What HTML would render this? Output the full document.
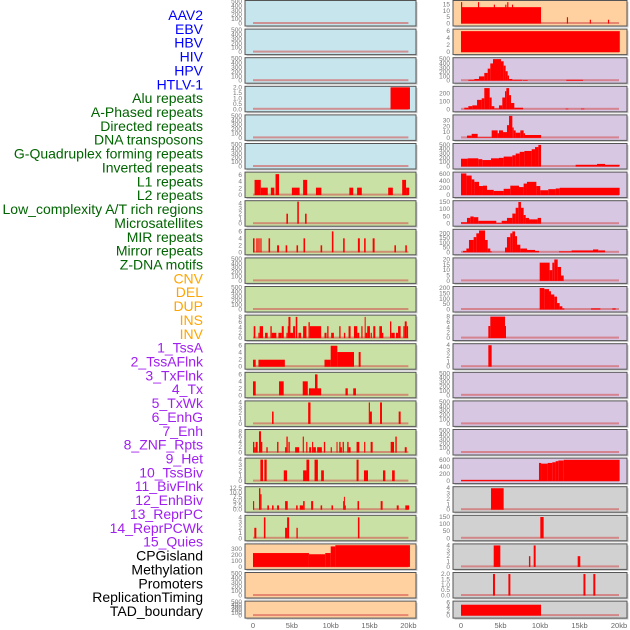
<!DOCTYPE html>
<html><head><meta charset="utf-8"><style>
body{margin:0;background:#fff;width:630px;height:630px;overflow:hidden;font-family:"Liberation Sans",sans-serif}
svg{position:absolute;left:0;top:0}
</style></head><body>
<svg id="chart" width="630" height="630" viewBox="0 0 630 630"></svg>
<script>
const labels=["AAV2","EBV","HBV","HIV","HPV","HTLV-1","Alu repeats","A-Phased repeats","Directed repeats","DNA transposons","G-Quadruplex forming repeats","Inverted repeats","L1 repeats","L2 repeats","Low_complexity A/T rich regions","Microsatellites","MIR repeats","Mirror repeats","Z-DNA motifs","CNV","DEL","DUP","INS","INV","1_TssA","2_TssAFlnk","3_TxFlnk","4_Tx","5_TxWk","6_EnhG","7_Enh","8_ZNF_Rpts","9_Het","10_TssBiv","11_BivFlnk","12_EnhBiv","13_ReprPC","14_ReprPCWk","15_Quies","CPGisland","Methylation","Promoters","ReplicationTiming","TAD_boundary"];
const labelGroups=[6,13,5,15,5];
const groupColors=["#0000ff","#006400","#ffa500","#a020f0","#000000"];
const xTicks=[0,5,10,15,20];
const xTickLabels=["0","5kb","10kb","15kb","20kb"];
const T500=[0,100,200,300,400,500];
const T2=[0,0.5,1,1.5,2];
// left panel data: [startKb,endKb,value]
const L3=[[17.7,20.2,2]];
const L6=[[0.2,1.0,4.5],[1.0,1.9,2.2],[2.3,2.75,2.2],[2.9,3.35,6.2],[5.0,6.0,2.2],[6.45,6.97,4.5],[8.1,8.8,2.2],[12.4,12.9,2.2],[13.4,14.0,2.2],[17.4,18.0,2.2],[19.2,19.7,4.5],[19.7,20.1,2.2]];
const L7=[[4.3,4.5,2],[5.7,5.9,4.4],[6.7,6.9,2]];
const L8=[[0,0.2,4],[0.43,0.6,4],[0.69,0.85,4],[0.95,1.1,4],[2.0,2.2,4],[3.1,3.35,2],[4.2,4.4,2],[5.6,5.8,2],[6.5,6.7,4],[8.7,8.9,2],[10.15,10.35,6],[11.6,11.8,4],[13.5,13.75,4],[14.3,14.5,4],[15.4,15.65,4],[18.2,18.4,2],[19.6,19.8,2]];
const L11=[[0.09,0.3,4.5],[0.69,0.86,2],[0.86,1.29,4.5],[1.55,1.89,2],[2.24,2.41,4.5],[2.41,3.01,2],[3.27,3.7,2],[3.7,3.96,4.5],[4.3,4.47,2],[4.47,4.56,4.5],[4.56,4.82,8],[4.82,5.16,2],[5.16,5.42,4.5],[5.5,5.7,8],[5.85,6.19,2],[6.45,6.88,4.5],[7.14,7.31,6],[7.31,8.77,4.5],[9.2,9.46,2],[9.55,9.72,4.5],[10.06,10.41,2],[11.1,11.27,4.5],[11.7,11.87,2],[12.3,12.56,4.5],[12.99,13.42,4.5],[13.42,13.68,2],[13.94,14.1,4.5],[14.37,14.5,8],[14.5,14.7,2],[14.7,15.05,4.5],[15.14,15.3,2],[15.48,15.74,4.5],[16.26,16.6,4.5],[16.6,16.77,2],[17.63,17.8,6.3],[17.8,18.24,2],[18.4,18.67,2],[18.67,19.0,4.5],[19.35,19.53,4.5],[19.53,19.78,6.3],[19.78,19.96,4.5]];
const L12=[[0,0.35,2],[0.7,4.1,2],[9.2,10.0,2],[10.0,10.85,6],[10.85,13.0,4.2],[13.6,13.85,4.2]];
const L13=[[0,0.35,4],[3.35,3.95,4],[6.4,7.05,4],[7.2,7.98,2],[7.98,8.3,6],[8.3,8.77,2],[11.9,12.2,2],[12.9,13.25,2]];
const L14=[[2.45,2.65,2.3],[7.1,7.4,4],[14.9,15.05,4],[15.05,15.3,2.3],[16.35,16.6,4],[18.75,19.0,2.3]];
const L15=[[0,0.17,4],[0.17,0.34,2],[0.34,0.6,4],[0.77,1.03,8],[1.03,1.2,4],[1.72,1.89,2],[3.1,3.28,4],[4.13,4.3,2],[4.3,4.47,6],[4.56,4.73,4],[5.42,5.94,2],[6.4,6.55,6],[6.85,7.0,4],[7.23,7.48,2],[7.6,7.74,4],[7.74,8.09,2],[8.26,8.86,2],[9.12,9.29,4],[10.0,10.15,2],[10.75,10.84,4],[11.1,11.27,4],[11.27,11.44,2],[11.53,11.7,4],[12.13,12.3,4],[12.3,12.56,2],[13.33,13.68,4],[14.3,14.45,4],[15.14,15.4,4],[17.72,18.15,4],[18.32,18.5,6],[19.53,19.78,2]];
const L16=[[0.95,1.29,4],[1.46,1.76,4],[3.96,4.38,2],[6.45,6.88,2],[6.88,7.23,4],[7.92,8.35,4],[8.77,9.12,2],[13.33,13.59,4],[14.28,14.8,2],[16.73,17.03,2],[17.9,18.24,2]];
const L17=[[0,0.15,5],[0.77,0.95,12.5],[0.95,1.1,9],[1.85,2.05,2.5],[2.45,2.65,2.5],[3.1,3.35,2.5],[4.13,4.47,5],[5.55,5.75,2.5],[6.02,6.45,2.5],[6.45,6.65,5],[7.48,7.74,5],[8.7,8.9,2.5],[10.1,10.3,2.5],[11.6,11.7,5],[11.7,11.8,7.5],[11.8,11.95,2.5],[13.45,13.65,5],[16.43,16.68,5],[18.5,18.75,2.5],[19.6,20.1,2.5]];
const L18=[[0.17,0.43,2],[1.4,1.6,4],[4.13,4.39,2],[4.39,4.65,4],[5.59,5.76,2],[13.5,13.7,4]];
const L19=[[0,7.2,230],[7.2,9.3,210],[9.3,10.0,230],[10.0,10.6,340],[10.6,20.2,360]];
// right panel data
const R0=[[0,10.13,13],[0,0.15,17],[2.15,2.3,17],[4.15,4.3,15],[5.6,5.75,15],[5.85,6.0,17],[6.45,6.6,15],[13.4,13.55,5],[16.3,16.45,3],[18.6,18.75,3]];
const R1=[[0,20.1,6]];
const R2=[[0.93,1.69,20],[1.69,2.28,40],[2.28,2.95,100],[2.95,3.38,180],[3.38,3.71,280],[3.71,4.05,400],[4.05,5.06,500],[5.06,5.4,450],[5.4,5.65,350],[5.65,5.91,220],[5.91,6.08,120],[6.08,6.5,40],[6.5,7.76,20],[7.85,8.44,15],[13.33,15.44,20]];
const R3=[[0.42,0.93,20],[0.93,1.43,40],[1.43,2.03,50],[2.03,2.62,120],[2.62,2.95,140],[2.95,3.63,270],[3.63,3.88,150],[3.88,4.22,40],[4.22,4.81,10],[4.81,5.23,50],[5.23,5.57,150],[5.57,5.74,230],[5.74,6.08,270],[6.08,6.33,180],[6.33,6.75,80],[6.75,7.85,20],[13.25,13.59,8],[15.19,15.61,8]];
const R4=[[0.76,1.35,4],[1.35,2.11,7],[2.11,3.88,1],[3.88,4.64,13],[4.64,4.81,8],[4.81,5.32,13],[5.32,5.82,10],[5.82,6.08,22],[6.08,6.5,38],[6.5,6.67,18],[6.67,6.92,13],[6.92,7.51,9],[7.51,7.93,13],[7.93,8.1,8],[8.1,10.13,5]];
const R5=[[0,0.84,180],[0.84,2.19,190],[2.19,2.7,170],[2.7,3.8,150],[3.8,4.81,190],[4.81,5.4,200],[5.4,6.5,230],[6.5,6.92,260],[6.92,7.43,300],[7.43,8.02,340],[8.02,8.95,360],[8.95,9.37,400],[9.37,9.79,450],[9.79,10.13,500],[14.51,17.22,40],[17.22,18.23,60],[18.23,20.08,40]];
const R6=[[0,0.68,620],[0.68,1.35,560],[1.35,1.69,450],[1.69,2.28,380],[2.28,2.78,260],[2.78,3.29,270],[3.29,4.14,150],[4.14,5.4,120],[5.4,6.24,180],[6.24,7.34,270],[7.34,7.93,230],[7.93,8.35,330],[8.35,9.54,380],[9.54,10.04,260],[10.04,11.05,140],[11.05,11.98,170],[11.98,12.49,190],[12.49,20.08,210]];
const R7=[[0,0.76,10],[0.76,1.18,40],[1.18,1.6,50],[1.6,2.19,45],[2.19,4.47,20],[4.47,5.15,5],[5.15,5.82,20],[5.82,6.5,40],[6.5,6.92,70],[6.92,7.26,110],[7.26,7.59,150],[7.59,7.93,110],[7.93,8.19,60],[8.19,8.61,40],[8.61,9.7,30],[9.7,10.13,40]];
const R8=[[0.25,0.68,15],[0.68,1.01,40],[1.01,1.6,130],[1.6,1.94,160],[1.94,2.28,200],[2.28,3.04,230],[3.04,3.38,130],[3.38,3.71,40],[3.71,3.88,10],[5.57,5.82,50],[5.82,6.24,160],[6.24,6.5,200],[6.5,6.84,220],[6.84,7.09,170],[7.09,7.51,80],[7.51,8.35,40],[8.35,9.37,25],[9.37,9.87,15],[12.41,14.0,10],[14.0,16.71,20],[16.71,17.38,30],[17.38,18.23,20]];
const R9=[[9.96,11.22,17],[11.22,11.56,10],[11.56,11.81,17],[11.81,12.24,20],[12.24,12.66,13],[12.66,13.0,5]];
const R10=[[9.96,10.55,200],[10.55,11.14,190],[11.14,11.39,170],[11.39,11.81,140],[11.81,12.15,120],[12.15,12.49,60],[12.49,12.83,30],[12.83,13.08,10],[16.46,17.64,10],[19.16,19.58,10]];
const R11=[[3.46,3.71,4.5],[3.71,5.57,8],[5.57,5.65,4.5]];
const R12=[[3.46,3.88,4]];
const R16=[[0,9.87,30],[9.87,10.13,520],[10.13,10.97,500],[10.97,11.56,520],[11.56,11.98,540],[11.98,12.32,570],[12.32,13.0,590],[13.0,20.08,610]];
const R17=[[3.8,5.4,4]];
const R18=[[10.04,10.46,150]];
const R19=[[4.14,4.98,4],[8.6,8.78,2],[9.2,9.45,4],[14.77,15.1,2]];
const R20=[[4.05,4.3,2],[6.0,6.25,2],[15.5,15.75,2],[16.75,17.0,2]];
const R21=[[0,10.13,5]];

const BLUE="#c7e5ec",GREEN="#c9e1a5",ORANGE="#ffd1a0",PURPLE="#d7c7e3",GREY="#d1d1d1";
const leftPanels=[
 [BLUE,500,T500,[]],[BLUE,500,T500,[]],[BLUE,500,T500,[]],[BLUE,2,T2,L3],[BLUE,500,T500,[]],[BLUE,500,T500,[]],
 [GREEN,6.5,[0,2,4,6],L6],[GREEN,4.4,[0,1,2,3,4],L7],[GREEN,6.3,[0,2,4,6],L8],[GREEN,500,T500,[]],[GREEN,500,T500,[]],
 [GREEN,8.3,[0,2,4,6,8],L11],[GREEN,6.3,[0,2,4,6],L12],[GREEN,6.3,[0,2,4,6],L13],[GREEN,4.1,[0,1,2,3,4],L14],
 [GREEN,8.3,[0,2,4,6,8],L15],[GREEN,4.1,[0,1,2,3,4],L16],[GREEN,12.8,[0,2.5,5,7.5,10,12.5],L17],[GREEN,4.2,[0,1,2,3,4],L18],
 [ORANGE,365,[0,100,200,300],L19],[ORANGE,500,T500,[]],[ORANGE,500,T500,[]]];
const rightPanels=[
 [ORANGE,17.5,[0,5,10,15],R0],[ORANGE,6.3,[0,2,4,6],R1],[PURPLE,510,T500,R2],[PURPLE,280,[0,100,200],R3],
 [PURPLE,38,[0,10,20,30],R4],[PURPLE,510,T500,R5],[PURPLE,630,[0,200,400,600],R6],[PURPLE,152,[0,50,100,150],R7],
 [PURPLE,232,[0,50,100,150,200],R8],[PURPLE,20.5,[0,5,10,15,20],R9],[PURPLE,205,[0,50,100,150,200],R10],
 [PURPLE,8.2,[0,2,4,6,8],R11],[PURPLE,4.1,[0,1,2,3,4],R12],[PURPLE,500,T500,[]],[PURPLE,500,T500,[]],[PURPLE,500,T500,[]],
 [PURPLE,630,[0,200,400,600],R16],[GREY,4.1,[0,1,2,3,4],R17],[GREY,155,[0,50,100,150],R18],[GREY,4.1,[0,1,2,3,4],R19],
 [GREY,2.05,[0,0.5,1,1.5,2],R20],[GREY,6.2,[0,2,4,6],R21]];

const NS="http://www.w3.org/2000/svg";
const svg=document.getElementById('chart');
function mk(tag,attrs,parent){const e=document.createElementNS(NS,tag);for(const k in attrs)e.setAttribute(k,attrs[k]);(parent||svg).appendChild(e);return e;}

// labels
let li=0;
labelGroups.forEach((n,g)=>{for(let k=0;k<n;k++){const t=mk('text',{x:203,y:15+li*13.86+5,'text-anchor':'end','font-size':'14',fill:groupColors[g]});
t.textContent=labels[li];


li++;}});

function fmt(t,ticks){const dec=ticks.some(v=>v%1!==0);return dec?t.toFixed(1):String(t);}
function drawPanel(side,i,p){
 const [bg,ymax,ticks,segs]=p;
 const x0=side==='left'?245:453, x1=side==='left'?416:627;
 const z0=side==='left'?253:461, kbw=side==='left'?7.77:7.9;
 const X=kb=>z0+kb*kbw;
 const top=i*28.6+0.5, h=(i===21)?17:25.5;
 const zeroY=top+h-2.5, plotH=zeroY-(top+1);
 const Y=v=>zeroY-v/ymax*plotH;
 const g=mk('g',{});
 
 
 mk('rect',{x:x0+1.5,y:top+1.5,width:x1-x0,height:h,fill:'#999','fill-opacity':0.5},g);
 mk('rect',{x:x0,y:top,width:x1-x0,height:h,fill:bg,stroke:'#555','stroke-width':1},g);
 mk('rect',{x:X(0),y:zeroY-1.5,width:X(20)-X(0),height:2,fill:'#d24a4a','fill-opacity':0.55},g);
 segs.forEach(s=>{const r=mk('rect',{x:X(s[0]),y:Y(s[2]),width:Math.max(1,X(s[1])-X(s[0])),height:zeroY-Y(s[2]),fill:'#ff0000'},g);
  
  });
 ticks.forEach(t=>{const tx=mk('text',{x:x0-3,y:Y(t)+2,'text-anchor':'end','font-size':'6.5',fill:'#777'},g);
  tx.textContent=fmt(t,ticks);
  
  });
 if(i===21){xTicks.forEach((t,k)=>{const tx=mk('text',{x:X(t),y:628,'text-anchor':'middle','font-size':'7.5',fill:'#666'},g);
  tx.textContent=xTickLabels[k];
  
  });}
}
leftPanels.forEach((p,i)=>drawPanel('left',i,p));
rightPanels.forEach((p,i)=>drawPanel('right',i,p));
</script>
</body></html>
